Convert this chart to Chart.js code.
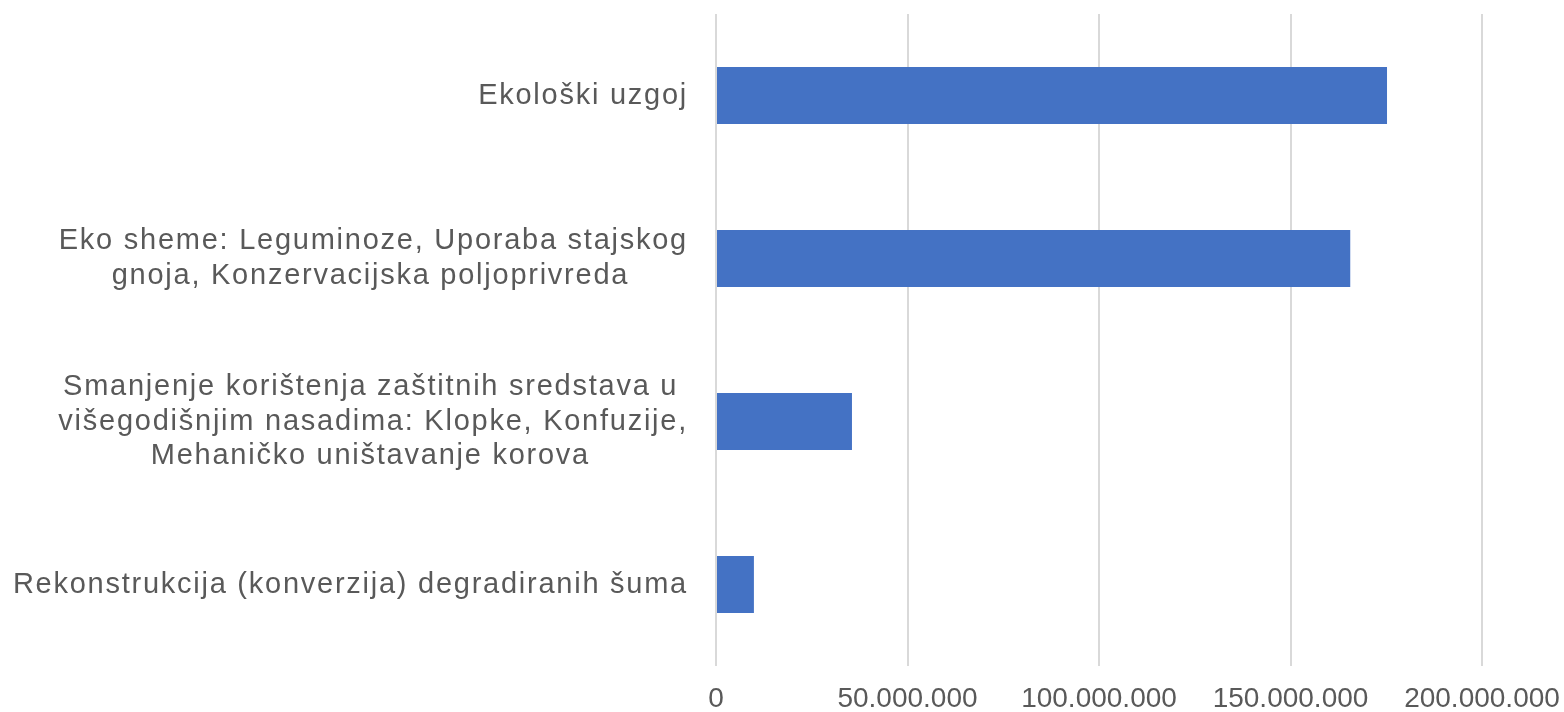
<!DOCTYPE html>
<html>
<head>
<meta charset="utf-8">
<script src="https://cdn.jsdelivr.net/npm/chart.js@4/dist/chart.umd.min.js"></script>
<style>
  html, body { margin: 0; padding: 0; background: #ffffff; }
  #wrap { width: 1564px; height: 712px; }
</style>
</head>
<body>
<div id="wrap"><canvas id="c" width="1564" height="712"></canvas></div>
<script>
// ---- data ----
const categories = [
  ["Ekološki uzgoj"],
  ["Eko sheme: Leguminoze, Uporaba stajskog", "gnoja, Konzervacijska poljoprivreda"],
  ["Smanjenje korištenja zaštitnih sredstava u", "višegodišnjim nasadima: Klopke, Konfuzije,", "Mehaničko uništavanje korova"],
  ["Rekonstrukcija (konverzija) degradiranih šuma"]
];
const values = [175200000, 165600000, 35500000, 9900000];
const xTicks = [0, 50000000, 100000000, 150000000, 200000000];

// ---- style ----
const TEXT = '#595959';
const LABEL_FONT_SIZE = 29;
const LABEL_SPACING = '1.75px';
const FAMILY = '"Liberation Sans", Arial, sans-serif';

function fmt(v) {
  return String(Math.round(v)).replace(/\B(?=(\d{3})+(?!\d))/g, '.');
}

// center lines of a multi-line label inside a right-aligned block
const mctx = document.createElement('canvas').getContext('2d');
mctx.font = LABEL_FONT_SIZE + 'px ' + FAMILY;
mctx.letterSpacing = LABEL_SPACING;
function centered(lines) {
  if (lines.length === 1) return lines[0];
  const ws = lines.map(l => mctx.measureText(l).width);
  const max = Math.max(...ws);
  const sp = mctx.measureText('x ').width - mctx.measureText('x').width;
  return lines.map((l, i) => {
    const n = Math.round((max - ws[i]) / 2 / sp);
    return l + ' '.repeat(n);
  });
}

const spacingPlugin = {
  id: 'labelSpacing',
  afterDatasetsDraw(chart) { chart.ctx.letterSpacing = LABEL_SPACING; },
  afterDraw(chart) { chart.ctx.letterSpacing = '0px'; }
};

new Chart(document.getElementById('c'), {
  type: 'bar',
  data: {
    labels: categories.map(c => c.join(' ')),
    datasets: [{
      data: values,
      backgroundColor: '#4472C4',
      borderWidth: 0,
      categoryPercentage: 1.0,
      barPercentage: 0.35
    }]
  },
  options: {
    indexAxis: 'y',
    responsive: false,
    animation: false,
    devicePixelRatio: 1,
    layout: { padding: { left: 0, right: 82, top: 14, bottom: 2 } },
    plugins: { legend: { display: false }, tooltip: { enabled: false } },
    scales: {
      x: {
        min: 0,
        max: 200000000,
        afterBuildTicks(scale) { scale.ticks = xTicks.map(v => ({ value: v })); },
        afterFit(scale) { scale.paddingLeft = 0; scale.paddingRight = 0; scale.height = 44; },
        grid: { color: '#D9D9D9', lineWidth: 2, drawTicks: false },
        border: { display: false },
        ticks: {
          color: TEXT,
          font: { family: FAMILY, size: 28, lineHeight: 1.0 },
          padding: 19,
          maxRotation: 0,
          autoSkip: false,
          callback: (v) => fmt(v)
        }
      },
      y: {
        grid: { display: false, drawTicks: false },
        border: { display: false },
        beforeUpdate(scale) { scale.ctx.letterSpacing = LABEL_SPACING; },
        afterUpdate(scale) { scale.ctx.letterSpacing = '0px'; },
        afterFit(scale) { scale.width = 716; scale.paddingTop = 0; scale.paddingBottom = 0; },
        ticks: {
          z: 1,
          color: TEXT,
          crossAlign: 'near',
          padding: 28,
          autoSkip: false,
          font: { family: FAMILY, size: LABEL_FONT_SIZE, lineHeight: 1.2 },
          callback: (v, i) => centered(categories[i])
        }
      }
    }
  },
  plugins: [spacingPlugin]
});
</script>
</body>
</html>
